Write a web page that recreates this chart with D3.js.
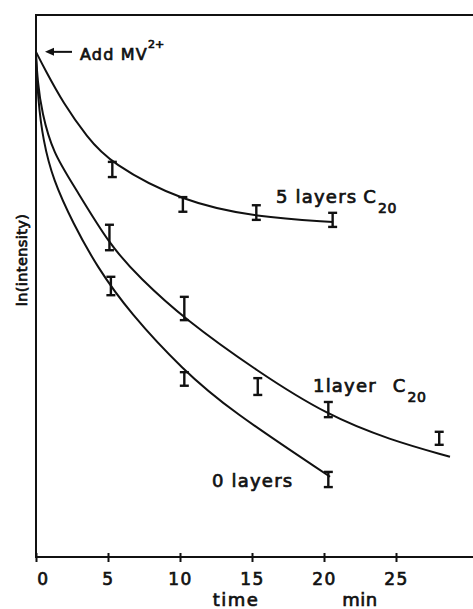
<!DOCTYPE html>
<html>
<head>
<meta charset="utf-8">
<script src="https://cdn.jsdelivr.net/npm/d3@7"></script>
<style>
  html, body { margin: 0; padding: 0; background: #fff; }
  svg { display: block; }
  text { font-family: "DejaVu Sans", sans-serif; font-weight: normal; fill: #111; stroke: #111; stroke-width: 0.7px; }
</style>
</head>
<body>
<svg id="chart" width="473" height="609"></svg>
<script>
// Time axis ticks (min)
const timeTicks = [0, 5, 10, 15, 20, 25];

// Decay curve control points: [time (min), ln(intensity) in arbitrary units]
const curveFiveLayers = [
  [0, 9.32], [0.63, 8.99], [1.88, 8.38], [3.54, 7.75], [5.14, 7.27],
  [10.21, 6.55], [15.35, 6.27], [20.63, 6.18]
];
const curveOneLayer = [
  [0, 9.28], [0.1, 8.8], [0.4, 8.2], [1.2, 7.45], [2.57, 6.88], [5.14, 5.74], [7.22, 5.15],
  [10.21, 4.41], [15.56, 3.39], [20.21, 2.62], [24.58, 2.16], [28.75, 1.85]
];
const curveZeroLayers = [
  [0, 9.24], [0.14, 8.43], [0.49, 7.69], [1.18, 6.96], [2.57, 6.16], [4.24, 5.35],
  [6.53, 4.50], [10.21, 3.45], [13.47, 2.71], [20.42, 1.48]
];

// Measured points with error ranges: [time, low, high]
const barsFiveLayers = [[5.3, 7.01, 7.29], [10.2, 6.37, 6.64], [15.3, 6.22, 6.49], [20.6, 6.09, 6.35]];
const barsOneLayer = [[5.1, 5.66, 6.13], [10.3, 4.37, 4.80], [15.4, 2.99, 3.30], [20.3, 2.58, 2.86], [28.0, 2.07, 2.31]];
const barsZeroLayers = [[5.2, 4.83, 5.17], [10.3, 3.16, 3.41], [20.3, 1.29, 1.57]];

const W = 473, H = 609;
const svg = d3.select("#chart");

const x = d3.scaleLinear().domain([0, 30]).range([36, 468]);
const y = d3.scaleLinear().domain([0, 10]).range([557, 15]);

const ink = "#111";

// Frame: top edge, left axis, bottom axis
svg.append("path")
  .attr("d", `M${W},${y(10)}H${x(0)}V${y(0)}H${W}`)
  .attr("fill", "none").attr("stroke", ink).attr("stroke-width", 2);

// Bottom axis ticks and labels
const xAxis = svg.append("g")
  .attr("transform", `translate(0,${y(0)})`)
  .call(d3.axisBottom(x).tickValues(timeTicks).tickSize(5).tickFormat(d3.format("d")));
xAxis.select(".domain").remove();
xAxis.selectAll(".tick line").attr("y1", -4).attr("y2", 5).attr("stroke", ink).attr("stroke-width", 2);
xAxis.selectAll(".tick text")
  .attr("y", 28).attr("dy", 0)
  .attr("font-size", 17).attr("font-family", null).attr("fill", ink)
  .attr("letter-spacing", 1.5)
  .attr("dx", d => d === 0 ? 7 : 0);

// Axis titles
svg.append("text").attr("x", 236).attr("y", 606).attr("text-anchor", "middle")
  .attr("font-size", 18).attr("letter-spacing", 1.5).text("time");
svg.append("text").attr("x", 360).attr("y", 606).attr("text-anchor", "middle")
  .attr("font-size", 18).attr("letter-spacing", 0.5).text("min");
svg.append("text")
  .attr("transform", "translate(27,260) rotate(-90)")
  .attr("text-anchor", "middle").attr("font-size", 14.5).attr("letter-spacing", 0.4)
  .text("ln(intensity)");

// Curves (smoothed B-spline through the control points)
const line = d3.line()
  .x(d => x(d[0])).y(d => y(d[1]))
  .curve(d3.curveBasis);

[curveFiveLayers, curveOneLayer, curveZeroLayers].forEach(c => {
  svg.append("path").attr("d", line(c))
    .attr("fill", "none").attr("stroke", ink).attr("stroke-width", 2);
});

// Error bars
const cap = 4.5;
[barsFiveLayers, barsOneLayer, barsZeroLayers].forEach(bars => {
  const g = svg.append("g").attr("stroke", ink).attr("stroke-width", 2.4);
  bars.forEach(([t, lo, hi]) => {
    const cx = x(t);
    g.append("line").attr("x1", cx).attr("x2", cx).attr("y1", y(hi)).attr("y2", y(lo));
    g.append("line").attr("x1", cx - cap).attr("x2", cx + cap).attr("y1", y(hi)).attr("y2", y(hi));
    g.append("line").attr("x1", cx - cap).attr("x2", cx + cap).attr("y1", y(lo)).attr("y2", y(lo));
  });
});

// Series labels: main text, optional "C" with subscript chain length
function seriesLabel(px, py, main, gap, sub) {
  const t = svg.append("text").attr("x", px).attr("y", py)
    .attr("font-size", 18).attr("letter-spacing", 1.2);
  t.append("tspan").text(main);
  if (sub) {
    t.append("tspan").attr("dx", gap).text("C");
    t.append("tspan").attr("font-size", 14).attr("dx", 1).attr("dy", 10).attr("letter-spacing", 0.5).text(sub);
  }
}
seriesLabel(276, 203, "5 layers", 6, "20");
seriesLabel(313, 392, "1layer", 16, "20");
seriesLabel(212, 487, "0 layers", 0, null);

// Injection marker
const yAdd = y(curveFiveLayers[0][1]);
svg.append("line").attr("x1", 52).attr("x2", 72).attr("y1", yAdd).attr("y2", yAdd)
  .attr("stroke", ink).attr("stroke-width", 2);
svg.append("path")
  .attr("d", `M45,${yAdd}L54,${yAdd - 4}L54,${yAdd + 4}Z`).attr("fill", ink);
const add = svg.append("text").attr("x", 80).attr("y", yAdd + 8).attr("font-size", 16).attr("letter-spacing", 1.2);
add.append("tspan").text("Add MV");
add.append("tspan").attr("font-size", 11).attr("dy", -12).attr("letter-spacing", 0).text("2+");
</script>
</body>
</html>
